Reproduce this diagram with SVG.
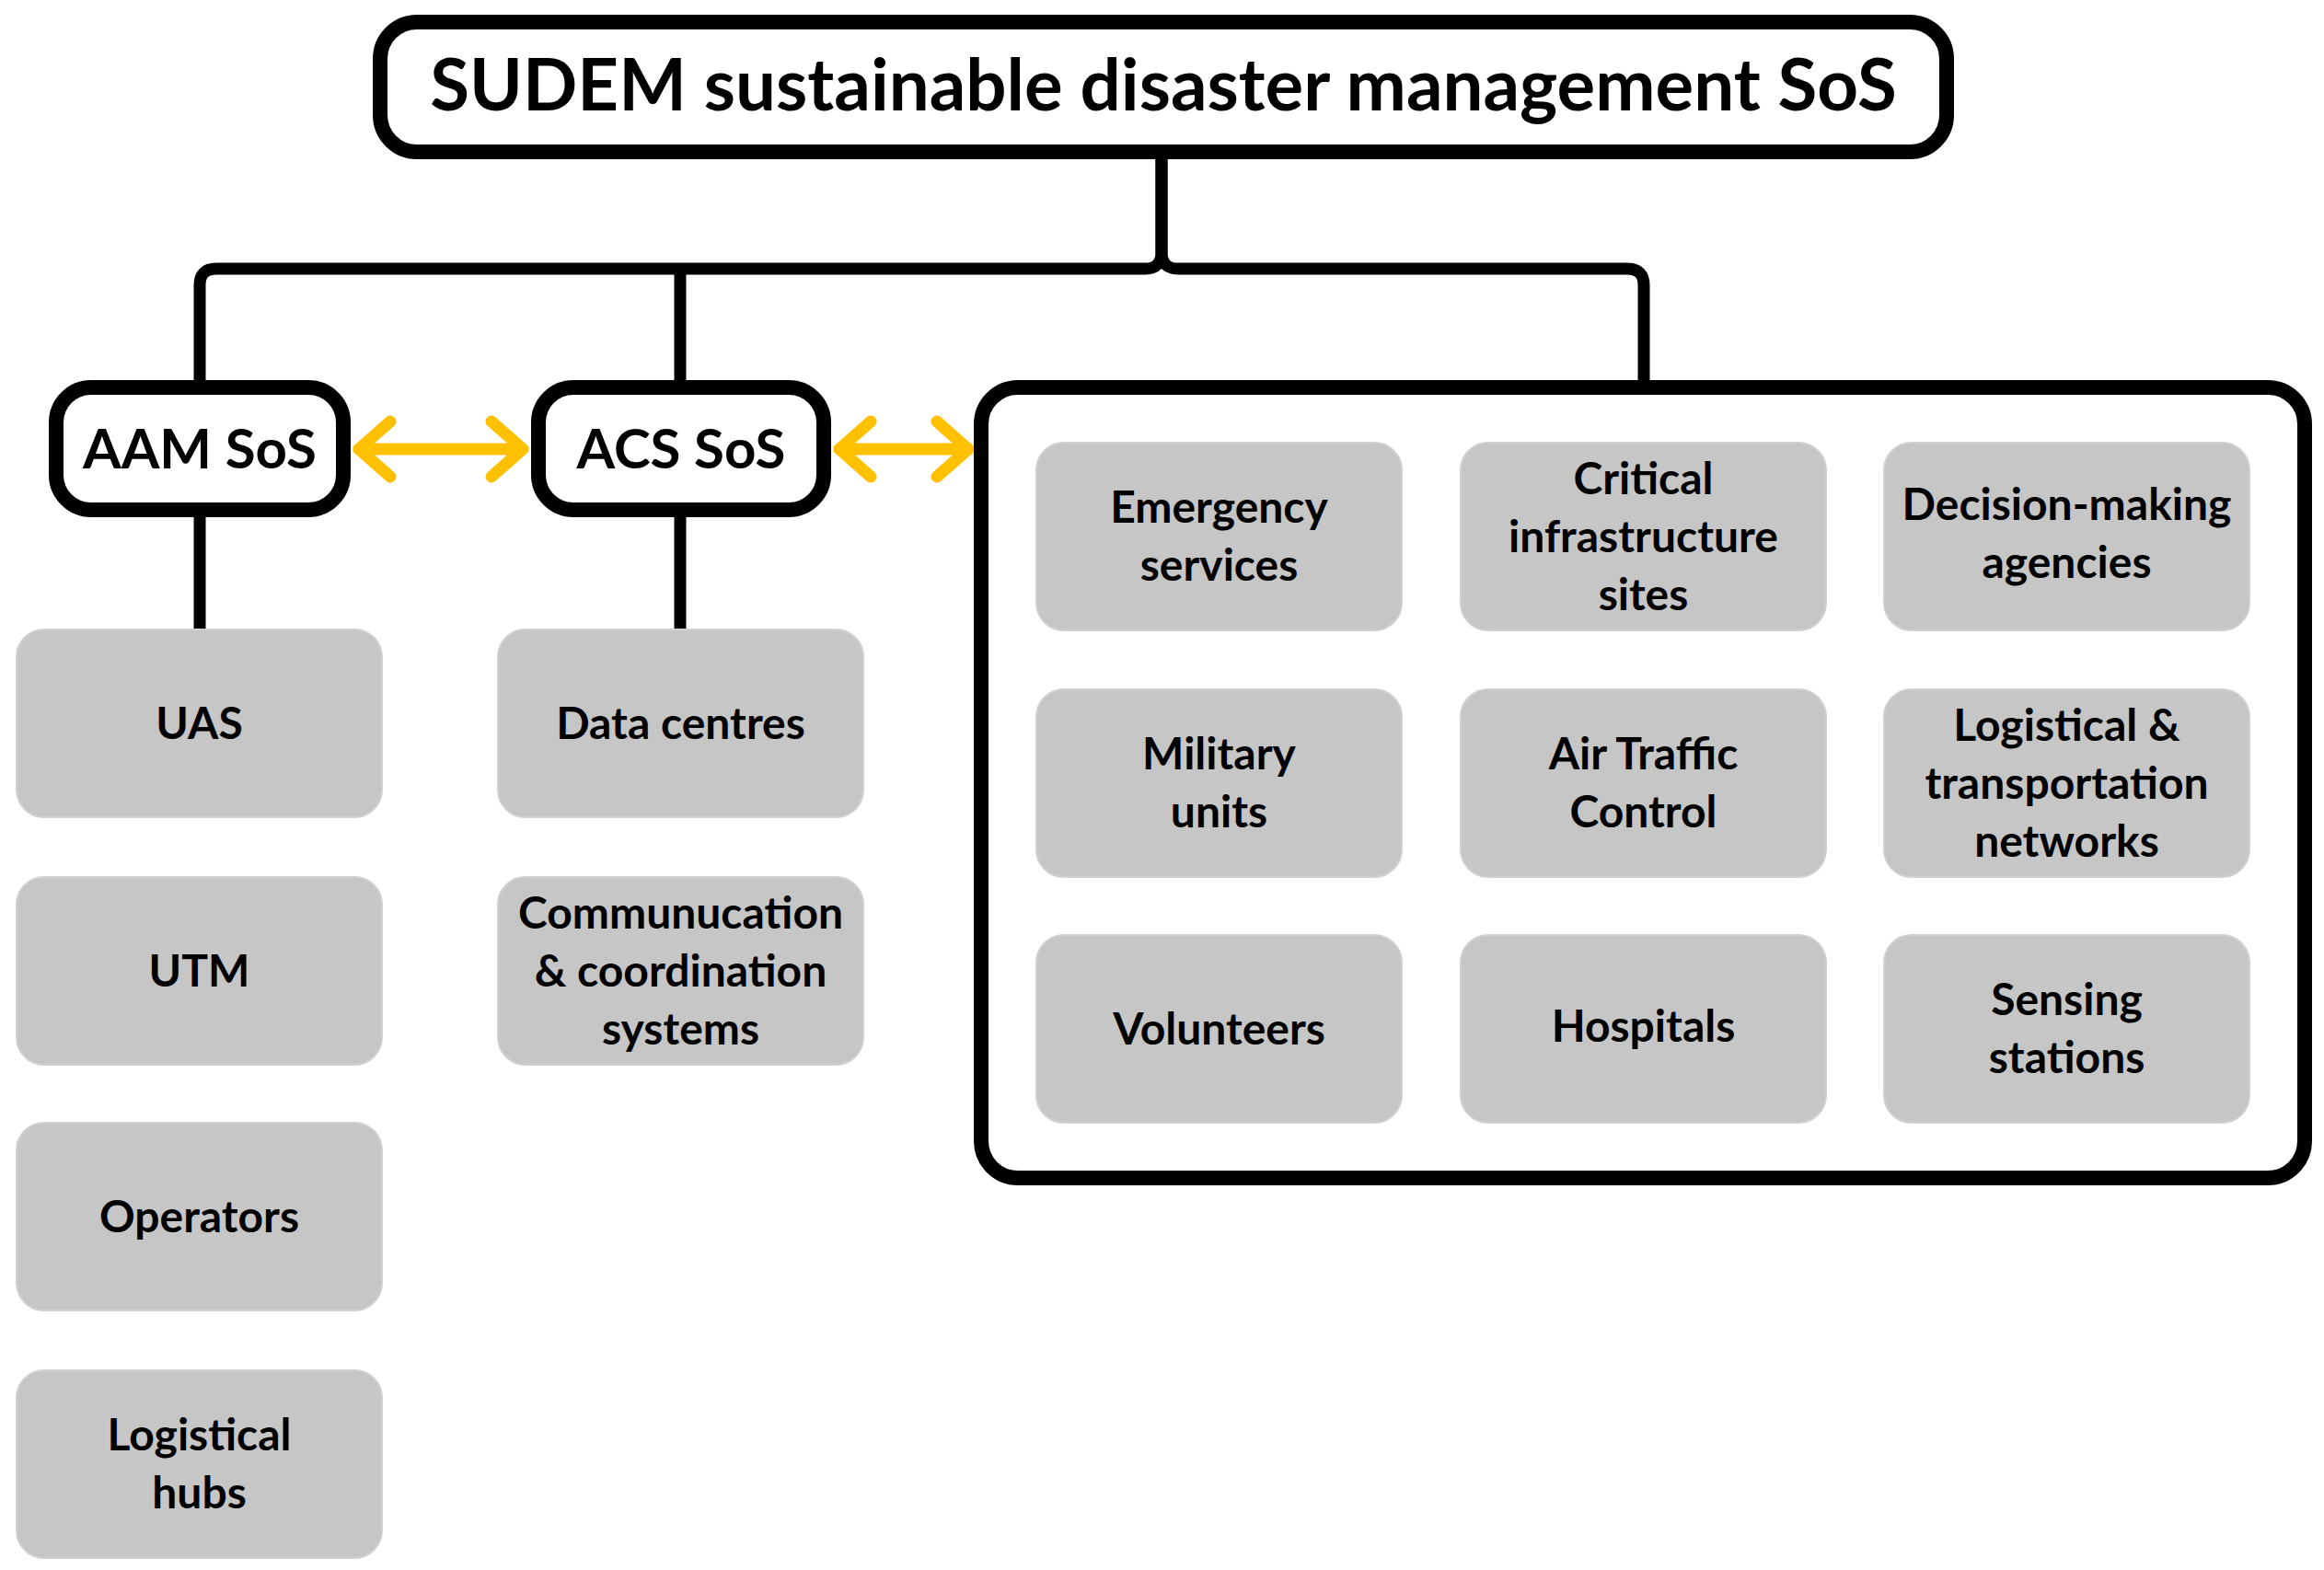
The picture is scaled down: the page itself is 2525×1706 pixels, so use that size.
<svg xmlns="http://www.w3.org/2000/svg" width="2525" height="1706" viewBox="0 0 2525 1706">
<style>
.frame{fill:#FFFFFF;stroke:#000000;stroke-width:16}
.item{fill:#C6C6C6;stroke:#D0D0D0;stroke-width:2}
.lbl{font-family:Lato,"Open Sans","Liberation Sans",sans-serif;font-weight:bold;font-size:48px;fill:#000000;text-anchor:middle}
.big{font-size:60px}
.ttl{font-size:78px}
.conn{fill:none;stroke:#000000;stroke-width:13}
.link{fill:none;stroke:#FFC000;stroke-width:13;stroke-linecap:round}
</style>
<defs>
<marker id="chev" viewBox="-44 -40 56 80" refX="0" refY="0" markerWidth="56" markerHeight="80" markerUnits="userSpaceOnUse" orient="auto-start-reverse" overflow="visible">
<path d="M-34,-30 L0,0 L-34,30" fill="none" stroke="#FFC000" stroke-width="13" stroke-linecap="round" stroke-linejoin="round"/>
</marker>
</defs>
<rect width="2525" height="1706" fill="#FFFFFF"/>
<g id="connectors">
<path class="conn" d="M1262,170 V274 Q1262,292 1244,292 H235 Q217,292 217,310 V421"/>
<path class="conn" d="M1262,170 V274 Q1262,292 1280,292 H1768 Q1786,292 1786,310 V421"/>
<path class="conn" d="M739,292 V421"/>
<path class="conn" d="M217,560 V684"/>
<path class="conn" d="M739,560 V684"/>
<path class="link" d="M390,488 H568" marker-start="url(#chev)" marker-end="url(#chev)"/>
<path class="link" d="M912,488 H1052" marker-start="url(#chev)" marker-end="url(#chev)"/>
</g>
<g id="title">
<rect class="frame" x="413" y="24" width="1702" height="141" rx="40"/>
<text class="lbl ttl" x="1264" y="120">SUDEM sustainable disaster management SoS</text>
</g>
<g id="aam">
<rect class="frame" x="61" y="421" width="312" height="133" rx="38"/>
<text class="lbl big" x="217" y="509">AAM SoS</text>
</g>
<g id="acs">
<rect class="frame" x="585" y="421" width="310" height="133" rx="38"/>
<text class="lbl big" x="740" y="509">ACS SoS</text>
</g>
<g id="stakeholders">
<rect class="frame" x="1066" y="421" width="1438" height="859" rx="40"/>
</g>
<g id="uas"><rect class="item" x="18" y="684" width="397" height="204" rx="30"/><text class="lbl" x="216.5" y="803">UAS</text></g>
<g id="utm"><rect class="item" x="18" y="953" width="397" height="204" rx="30"/><text class="lbl" x="216.5" y="1072">UTM</text></g>
<g id="operators"><rect class="item" x="18" y="1220" width="397" height="204" rx="30"/><text class="lbl" x="216.5" y="1339">Operators</text></g>
<g id="hubs"><rect class="item" x="18" y="1489" width="397" height="204" rx="30"/><text class="lbl" x="216.5" y="1576">Logistical</text><text class="lbl" x="216.5" y="1639">hubs</text></g>
<g id="datacentres"><rect class="item" x="541" y="684" width="397" height="204" rx="30"/><text class="lbl" x="739.5" y="803">Data centres</text></g>
<g id="comms"><rect class="item" x="541" y="953" width="397" height="204" rx="30"/><text class="lbl" x="739.5" y="1009">Communucation</text><text class="lbl" x="739.5" y="1072">&amp; coordination</text><text class="lbl" x="739.5" y="1135">systems</text></g>
<g id="emergency"><rect class="item" x="1126" y="481" width="397" height="204" rx="30"/><text class="lbl" x="1324.5" y="568">Emergency</text><text class="lbl" x="1324.5" y="631">services</text></g>
<g id="critical"><rect class="item" x="1587" y="481" width="397" height="204" rx="30"/><text class="lbl" x="1785.5" y="537">Critical</text><text class="lbl" x="1785.5" y="600">infrastructure</text><text class="lbl" x="1785.5" y="663">sites</text></g>
<g id="decision"><rect class="item" x="2047" y="481" width="397" height="204" rx="30"/><text class="lbl" x="2245.5" y="565">Decision-making</text><text class="lbl" x="2245.5" y="628">agencies</text></g>
<g id="military"><rect class="item" x="1126" y="749" width="397" height="204" rx="30"/><text class="lbl" x="1324.5" y="836">Military</text><text class="lbl" x="1324.5" y="899">units</text></g>
<g id="atc"><rect class="item" x="1587" y="749" width="397" height="204" rx="30"/><text class="lbl" x="1785.5" y="836">Air Traffic</text><text class="lbl" x="1785.5" y="899">Control</text></g>
<g id="logistics"><rect class="item" x="2047" y="749" width="397" height="204" rx="30"/><text class="lbl" x="2245.5" y="805">Logistical &amp;</text><text class="lbl" x="2245.5" y="868">transportation</text><text class="lbl" x="2245.5" y="931">networks</text></g>
<g id="volunteers"><rect class="item" x="1126" y="1016" width="397" height="204" rx="30"/><text class="lbl" x="1324.5" y="1135">Volunteers</text></g>
<g id="hospitals"><rect class="item" x="1587" y="1016" width="397" height="204" rx="30"/><text class="lbl" x="1785.5" y="1132">Hospitals</text></g>
<g id="sensing"><rect class="item" x="2047" y="1016" width="397" height="204" rx="30"/><text class="lbl" x="2245.5" y="1103">Sensing</text><text class="lbl" x="2245.5" y="1166">stations</text></g>
</svg>
